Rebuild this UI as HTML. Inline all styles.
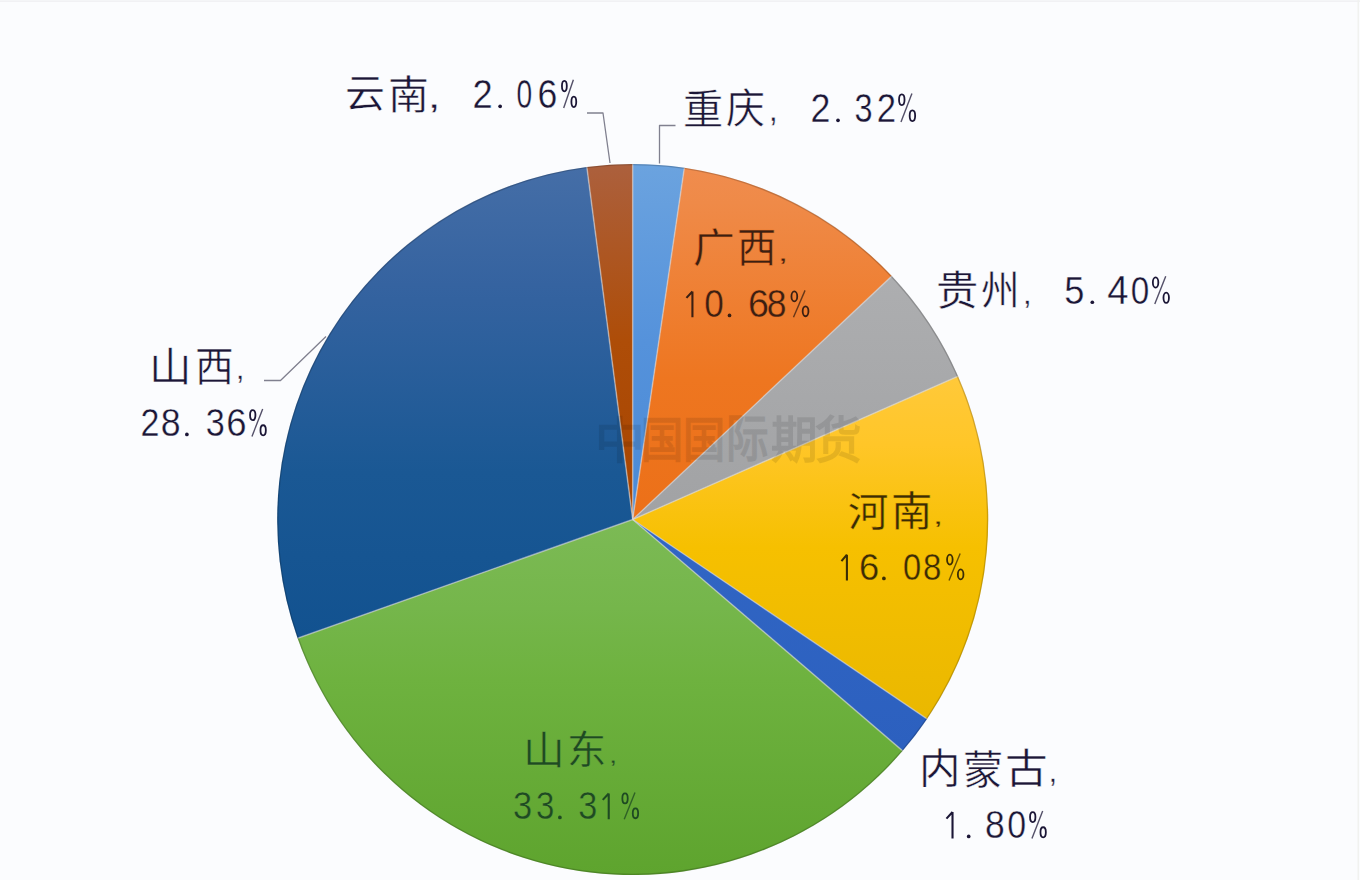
<!DOCTYPE html>
<html lang="zh-CN"><head><meta charset="utf-8">
<style>
html,body{margin:0;padding:0;}
body{width:1360px;height:880px;background:#fbfcfe;position:relative;overflow:hidden;font-family:"Liberation Sans",sans-serif;}
svg{position:absolute;left:0;top:0;}
.wm text{font-family:"Liberation Sans",sans-serif;font-size:100px;fill:#000;stroke:#000;stroke-width:1.6px;vector-effect:non-scaling-stroke;}
.t text{font-family:"Liberation Sans",sans-serif;font-size:100px;stroke-width:0.45px;vector-effect:non-scaling-stroke;paint-order:normal;}
</style></head><body>
<svg width="1360" height="880" viewBox="0 0 1360 880">
<defs><linearGradient id="gcq" x1="0" y1="0" x2="0" y2="1"><stop offset="0" stop-color="#6BA3DF"/><stop offset="0.5" stop-color="#5592DB"/><stop offset="1" stop-color="#4A8AD6"/></linearGradient><linearGradient id="ggx" x1="0" y1="0" x2="0" y2="1"><stop offset="0" stop-color="#F08C4E"/><stop offset="0.1" stop-color="#EF8A48"/><stop offset="0.6" stop-color="#EE7620"/><stop offset="1" stop-color="#EC7018"/></linearGradient><linearGradient id="ggz" x1="0" y1="0" x2="0" y2="1"><stop offset="0" stop-color="#ADAEB0"/><stop offset="1" stop-color="#A1A2A4"/></linearGradient><linearGradient id="ghn" x1="0" y1="0" x2="0" y2="1"><stop offset="0" stop-color="#FFC93A"/><stop offset="0.2" stop-color="#FFC628"/><stop offset="0.5" stop-color="#F6C000"/><stop offset="1" stop-color="#EAB800"/></linearGradient><linearGradient id="gnm" x1="0" y1="0" x2="0" y2="1"><stop offset="0" stop-color="#3166C4"/><stop offset="1" stop-color="#2C60BF"/></linearGradient><linearGradient id="gsd" x1="0" y1="0" x2="0" y2="1"><stop offset="0" stop-color="#7CBA55"/><stop offset="0.25" stop-color="#75B64B"/><stop offset="0.45" stop-color="#6EB23F"/><stop offset="1" stop-color="#5EA42E"/></linearGradient><linearGradient id="gsx" x1="0" y1="0" x2="0" y2="1"><stop offset="0" stop-color="#456EA7"/><stop offset="0.25" stop-color="#3563A0"/><stop offset="0.65" stop-color="#1A5894"/><stop offset="1" stop-color="#125290"/></linearGradient><linearGradient id="gyn" x1="0" y1="0" x2="0" y2="1"><stop offset="0" stop-color="#AC603D"/><stop offset="0.5" stop-color="#AE4D08"/><stop offset="1" stop-color="#A84500"/></linearGradient></defs>
<rect x="0" y="0.5" width="1360" height="1.2" fill="#ededf0"/><rect x="1357.5" y="0" width="1.5" height="880" fill="#f1f2f0"/>
<g><path d="M632.7,519.5 L632.70,164.00 A355.5,355.5 0 0 1 684.33,167.77 Z" fill="url(#gcq)"/><path d="M632.7,519.5 L684.33,167.77 A355.5,355.5 0 0 1 891.83,276.12 Z" fill="url(#ggx)"/><path d="M632.7,519.5 L891.83,276.12 A355.5,355.5 0 0 1 958.05,376.23 Z" fill="url(#ggz)"/><path d="M632.7,519.5 L958.05,376.23 A355.5,355.5 0 0 1 927.02,718.89 Z" fill="url(#ghn)"/><path d="M632.7,519.5 L927.02,718.89 A355.5,355.5 0 0 1 902.64,750.83 Z" fill="url(#gnm)"/><path d="M632.7,519.5 L902.64,750.83 A355.5,355.5 0 0 1 297.59,638.17 Z" fill="url(#gsd)"/><path d="M632.7,519.5 L297.59,638.17 A355.5,355.5 0 0 1 586.82,166.97 Z" fill="url(#gsx)"/><path d="M632.7,519.5 L586.82,166.97 A355.5,355.5 0 0 1 632.70,164.00 Z" fill="url(#gyn)"/></g>
<g stroke="#d8d8dc" stroke-opacity="0.55" stroke-width="1.5"><line x1="632.7" y1="519.5" x2="632.70" y2="164.00"/><line x1="632.7" y1="519.5" x2="684.33" y2="167.77"/><line x1="632.7" y1="519.5" x2="891.83" y2="276.12"/><line x1="632.7" y1="519.5" x2="958.05" y2="376.23"/><line x1="632.7" y1="519.5" x2="927.02" y2="718.89"/><line x1="632.7" y1="519.5" x2="902.64" y2="750.83"/><line x1="632.7" y1="519.5" x2="297.59" y2="638.17"/><line x1="632.7" y1="519.5" x2="586.82" y2="166.97"/></g>
<circle cx="632.7" cy="519.5" r="354.9" fill="none" stroke="#000" stroke-opacity="0.18" stroke-width="1.4"/>
<g class="wm" opacity="0.095"><text transform="matrix(0.49689,0,0,0.48913,595.28,457.59)">中</text><text transform="matrix(0.42169,0,0,0.48229,641.02,456.74)">国</text><text transform="matrix(0.42169,0,0,0.48229,683.22,456.74)">国</text><text transform="matrix(0.42529,0,0,0.51136,726.39,457.41)">际</text><text transform="matrix(0.46554,0,0,0.50273,771.34,457.73)">期</text><text transform="matrix(0.46630,0,0,0.49730,814.63,458.02)">货</text></g>
<g fill="none" stroke="#80808f" stroke-width="1.3" stroke-linejoin="round">
<path d="M659.5,163.5 L659.5,125.5 L675.5,125.5"/>
<path d="M610,163 L603,113 L587,113"/>
<path d="M326,336.5 L280.5,380.5 L264,380.5"/>
</g>
<g class="t"><text transform="matrix(0.40000,0,0,0.38343,344.80,107.34)" fill="#1b1636" stroke="#fbfcfe">云</text><text transform="matrix(0.40909,0,0,0.40326,387.55,109.17)" fill="#1b1636" stroke="#fbfcfe">南</text><text transform="matrix(0.47368,0,0,0.32609,427.50,107.92)" fill="#1b1636" stroke="#fbfcfe" style="stroke-width:0.35px">,</text><text transform="matrix(0.36264,0,0,0.40429,472.59,108.10)" fill="#1b1636" stroke="#fbfcfe" style="stroke-width:0.35px">2</text><circle cx="500.15" cy="106.30" r="1.85" fill="#1b1636"/><text transform="matrix(0.28211,0,0,0.39859,516.47,107.70)" fill="#1b1636" stroke="#fbfcfe" style="stroke-width:0.35px">0</text><text transform="matrix(0.35652,0,0,0.39859,537.52,107.70)" fill="#1b1636" stroke="#fbfcfe" style="stroke-width:0.35px">6</text><ellipse cx="564.38" cy="86.09" rx="2.43" ry="5.24" fill="none" stroke="#1b1636" stroke-width="1.8"/><ellipse cx="573.82" cy="101.81" rx="2.43" ry="5.24" fill="none" stroke="#1b1636" stroke-width="1.8"/><path d="M563.67,108.10 L573.39,79.80" stroke="#1b1636" stroke-opacity="0.75" stroke-width="1.4"/><text transform="matrix(0.40222,0,0,0.40452,683.29,123.88)" fill="#1b1636" stroke="#fbfcfe">重</text><text transform="matrix(0.38925,0,0,0.40973,726.43,123.02)" fill="#1b1636" stroke="#fbfcfe">庆</text><text transform="matrix(0.32632,0,0,0.32609,768.70,121.42)" fill="#1b1636" stroke="#fbfcfe" style="stroke-width:0.35px">,</text><text transform="matrix(0.35824,0,0,0.41000,810.61,122.10)" fill="#1b1636" stroke="#fbfcfe" style="stroke-width:0.35px">2</text><circle cx="838.00" cy="120.30" r="1.85" fill="#1b1636"/><text transform="matrix(0.32553,0,0,0.40423,854.60,121.70)" fill="#1b1636" stroke="#fbfcfe" style="stroke-width:0.35px">3</text><text transform="matrix(0.34725,0,0,0.41000,876.66,122.10)" fill="#1b1636" stroke="#fbfcfe" style="stroke-width:0.35px">2</text><ellipse cx="901.79" cy="99.77" rx="2.74" ry="5.32" fill="none" stroke="#1b1636" stroke-width="1.8"/><ellipse cx="912.41" cy="115.73" rx="2.74" ry="5.32" fill="none" stroke="#1b1636" stroke-width="1.8"/><path d="M900.98,122.10 L911.93,93.40" stroke="#1b1636" stroke-opacity="0.75" stroke-width="1.4"/><text transform="matrix(0.42346,0,0,0.40973,936.07,304.82)" fill="#1b1636" stroke="#fbfcfe">贵</text><text transform="matrix(0.38728,0,0,0.40667,981.34,305.25)" fill="#1b1636" stroke="#fbfcfe">州</text><text transform="matrix(0.32632,0,0,0.30870,1022.70,304.04)" fill="#1b1636" stroke="#fbfcfe" style="stroke-width:0.35px">,</text><text transform="matrix(0.36211,0,0,0.39571,1064.35,303.60)" fill="#1b1636" stroke="#fbfcfe" style="stroke-width:0.35px">5</text><circle cx="1092.30" cy="302.25" r="1.85" fill="#1b1636"/><text transform="matrix(0.38200,0,0,0.40145,1107.35,304.00)" fill="#1b1636" stroke="#fbfcfe" style="stroke-width:0.35px">4</text><text transform="matrix(0.33263,0,0,0.39014,1130.87,303.61)" fill="#1b1636" stroke="#fbfcfe" style="stroke-width:0.35px">0</text><ellipse cx="1155.59" cy="282.47" rx="2.74" ry="5.12" fill="none" stroke="#1b1636" stroke-width="1.8"/><ellipse cx="1166.21" cy="297.83" rx="2.74" ry="5.12" fill="none" stroke="#1b1636" stroke-width="1.8"/><path d="M1154.78,304.00 L1165.73,276.30" stroke="#1b1636" stroke-opacity="0.75" stroke-width="1.4"/><text transform="matrix(0.41778,0,0,0.39465,692.63,261.75)" fill="#3a1f12" stroke="#EE7A28">广</text><text transform="matrix(0.39318,0,0,0.40706,737.34,262.25)" fill="#3a1f12" stroke="#EE7A28">西</text><text transform="matrix(0.37895,0,0,0.24348,777.80,260.56)" fill="#3a1f12" stroke="#EE7A28" style="stroke-width:0.35px">,</text><path d="M692.43,291.45 L692.43,317.30 M692.43,291.45 L686.45,297.90" fill="none" stroke="#3a1f12" stroke-width="2.1" stroke-linejoin="round"/><text transform="matrix(0.35158,0,0,0.37887,704.29,316.92)" fill="#3a1f12" stroke="#EE7A28" style="stroke-width:0.35px">0</text><circle cx="729.50" cy="315.40" r="1.85" fill="#3a1f12"/><text transform="matrix(0.37609,0,0,0.37887,747.92,316.92)" fill="#3a1f12" stroke="#EE7A28" style="stroke-width:0.35px">6</text><text transform="matrix(0.35532,0,0,0.37887,766.70,316.92)" fill="#3a1f12" stroke="#EE7A28" style="stroke-width:0.35px">8</text><ellipse cx="794.34" cy="296.41" rx="2.89" ry="4.96" fill="none" stroke="#3a1f12" stroke-width="1.8"/><ellipse cx="805.56" cy="311.29" rx="2.89" ry="4.96" fill="none" stroke="#3a1f12" stroke-width="1.8"/><path d="M793.49,317.30 L805.05,290.40" stroke="#3a1f12" stroke-opacity="0.75" stroke-width="1.4"/><text transform="matrix(0.40430,0,0,0.40221,847.88,525.88)" fill="#3a2c05" stroke="#F4BF00">河</text><text transform="matrix(0.41364,0,0,0.41413,891.02,525.79)" fill="#3a2c05" stroke="#F4BF00">南</text><text transform="matrix(0.37895,0,0,0.23478,932.80,523.87)" fill="#3a2c05" stroke="#F4BF00" style="stroke-width:0.35px">,</text><path d="M846.91,554.65 L846.91,580.40 M846.91,554.65 L841.45,561.07" fill="none" stroke="#3a2c05" stroke-width="2.1" stroke-linejoin="round"/><text transform="matrix(0.36304,0,0,0.37746,858.88,580.02)" fill="#3a2c05" stroke="#F4BF00" style="stroke-width:0.35px">6</text><circle cx="883.90" cy="578.45" r="1.85" fill="#3a2c05"/><text transform="matrix(0.32632,0,0,0.37746,902.89,580.02)" fill="#3a2c05" stroke="#F4BF00" style="stroke-width:0.35px">0</text><text transform="matrix(0.32979,0,0,0.37746,923.02,580.02)" fill="#3a2c05" stroke="#F4BF00" style="stroke-width:0.35px">8</text><ellipse cx="949.84" cy="559.59" rx="2.79" ry="4.94" fill="none" stroke="#3a2c05" stroke-width="1.8"/><ellipse cx="960.66" cy="574.41" rx="2.79" ry="4.94" fill="none" stroke="#3a2c05" stroke-width="1.8"/><path d="M949.02,580.40 L960.17,553.60" stroke="#3a2c05" stroke-opacity="0.75" stroke-width="1.4"/><text transform="matrix(0.41491,0,0,0.40541,919.25,783.05)" fill="#1b1636" stroke="#fbfcfe">内</text><text transform="matrix(0.40225,0,0,0.40000,963.49,783.60)" fill="#1b1636" stroke="#fbfcfe">蒙</text><text transform="matrix(0.42682,0,0,0.40541,1005.15,783.05)" fill="#1b1636" stroke="#fbfcfe">古</text><text transform="matrix(0.31579,0,0,0.30435,1048.60,782.20)" fill="#1b1636" stroke="#fbfcfe" style="stroke-width:0.35px">,</text><path d="M952.52,812.05 L952.52,838.40 M952.52,812.05 L946.45,818.63" fill="none" stroke="#1b1636" stroke-width="2.1" stroke-linejoin="round"/><circle cx="968.70" cy="836.45" r="1.85" fill="#1b1636"/><text transform="matrix(0.35532,0,0,0.38592,985.00,838.01)" fill="#1b1636" stroke="#fbfcfe" style="stroke-width:0.35px">8</text><text transform="matrix(0.33895,0,0,0.38592,1007.34,838.01)" fill="#1b1636" stroke="#fbfcfe" style="stroke-width:0.35px">0</text><ellipse cx="1032.74" cy="817.11" rx="2.69" ry="5.06" fill="none" stroke="#1b1636" stroke-width="1.8"/><ellipse cx="1043.16" cy="832.29" rx="2.69" ry="5.06" fill="none" stroke="#1b1636" stroke-width="1.8"/><path d="M1031.95,838.40 L1042.69,811.00" stroke="#1b1636" stroke-opacity="0.75" stroke-width="1.4"/><text transform="matrix(0.41783,0,0,0.39231,522.50,763.56)" fill="#1e4a22" stroke="#72B046">山</text><text transform="matrix(0.39306,0,0,0.39243,567.05,763.76)" fill="#1e4a22" stroke="#72B046">东</text><text transform="matrix(0.31579,0,0,0.23913,608.80,762.51)" fill="#1e4a22" stroke="#72B046" style="stroke-width:0.35px">,</text><text transform="matrix(0.34468,0,0,0.37887,513.12,818.92)" fill="#1e4a22" stroke="#72B046" style="stroke-width:0.35px">3</text><text transform="matrix(0.32979,0,0,0.37887,535.88,818.92)" fill="#1e4a22" stroke="#72B046" style="stroke-width:0.35px">3</text><circle cx="559.90" cy="817.40" r="1.85" fill="#1e4a22"/><text transform="matrix(0.34255,0,0,0.37887,578.23,818.92)" fill="#1e4a22" stroke="#72B046" style="stroke-width:0.35px">3</text><path d="M608.73,793.45 L608.73,819.30 M608.73,793.45 L602.75,799.90" fill="none" stroke="#1e4a22" stroke-width="2.1" stroke-linejoin="round"/><ellipse cx="625.04" cy="798.41" rx="2.69" ry="4.96" fill="none" stroke="#1e4a22" stroke-width="1.8"/><ellipse cx="635.46" cy="813.29" rx="2.69" ry="4.96" fill="none" stroke="#1e4a22" stroke-width="1.8"/><path d="M624.25,819.30 L634.99,792.40" stroke="#1e4a22" stroke-opacity="0.75" stroke-width="1.4"/><text transform="matrix(0.42548,0,0,0.40110,149.42,380.79)" fill="#1b1636" stroke="#fbfcfe">山</text><text transform="matrix(0.38750,0,0,0.40824,195.28,380.94)" fill="#1b1636" stroke="#fbfcfe">西</text><text transform="matrix(0.31579,0,0,0.30870,235.80,379.44)" fill="#1b1636" stroke="#fbfcfe" style="stroke-width:0.35px">,</text><text transform="matrix(0.34066,0,0,0.39143,140.50,436.40)" fill="#1b1636" stroke="#fbfcfe" style="stroke-width:0.35px">2</text><text transform="matrix(0.35745,0,0,0.38592,160.79,436.01)" fill="#1b1636" stroke="#fbfcfe" style="stroke-width:0.35px">8</text><circle cx="186.90" cy="434.45" r="1.85" fill="#1b1636"/><text transform="matrix(0.34255,0,0,0.38592,205.83,436.01)" fill="#1b1636" stroke="#fbfcfe" style="stroke-width:0.35px">3</text><text transform="matrix(0.36522,0,0,0.38592,226.17,436.01)" fill="#1b1636" stroke="#fbfcfe" style="stroke-width:0.35px">6</text><ellipse cx="252.74" cy="415.11" rx="2.69" ry="5.06" fill="none" stroke="#1b1636" stroke-width="1.8"/><ellipse cx="263.16" cy="430.29" rx="2.69" ry="5.06" fill="none" stroke="#1b1636" stroke-width="1.8"/><path d="M251.95,436.40 L262.69,409.00" stroke="#1b1636" stroke-opacity="0.75" stroke-width="1.4"/></g>
</svg>
</body></html>
